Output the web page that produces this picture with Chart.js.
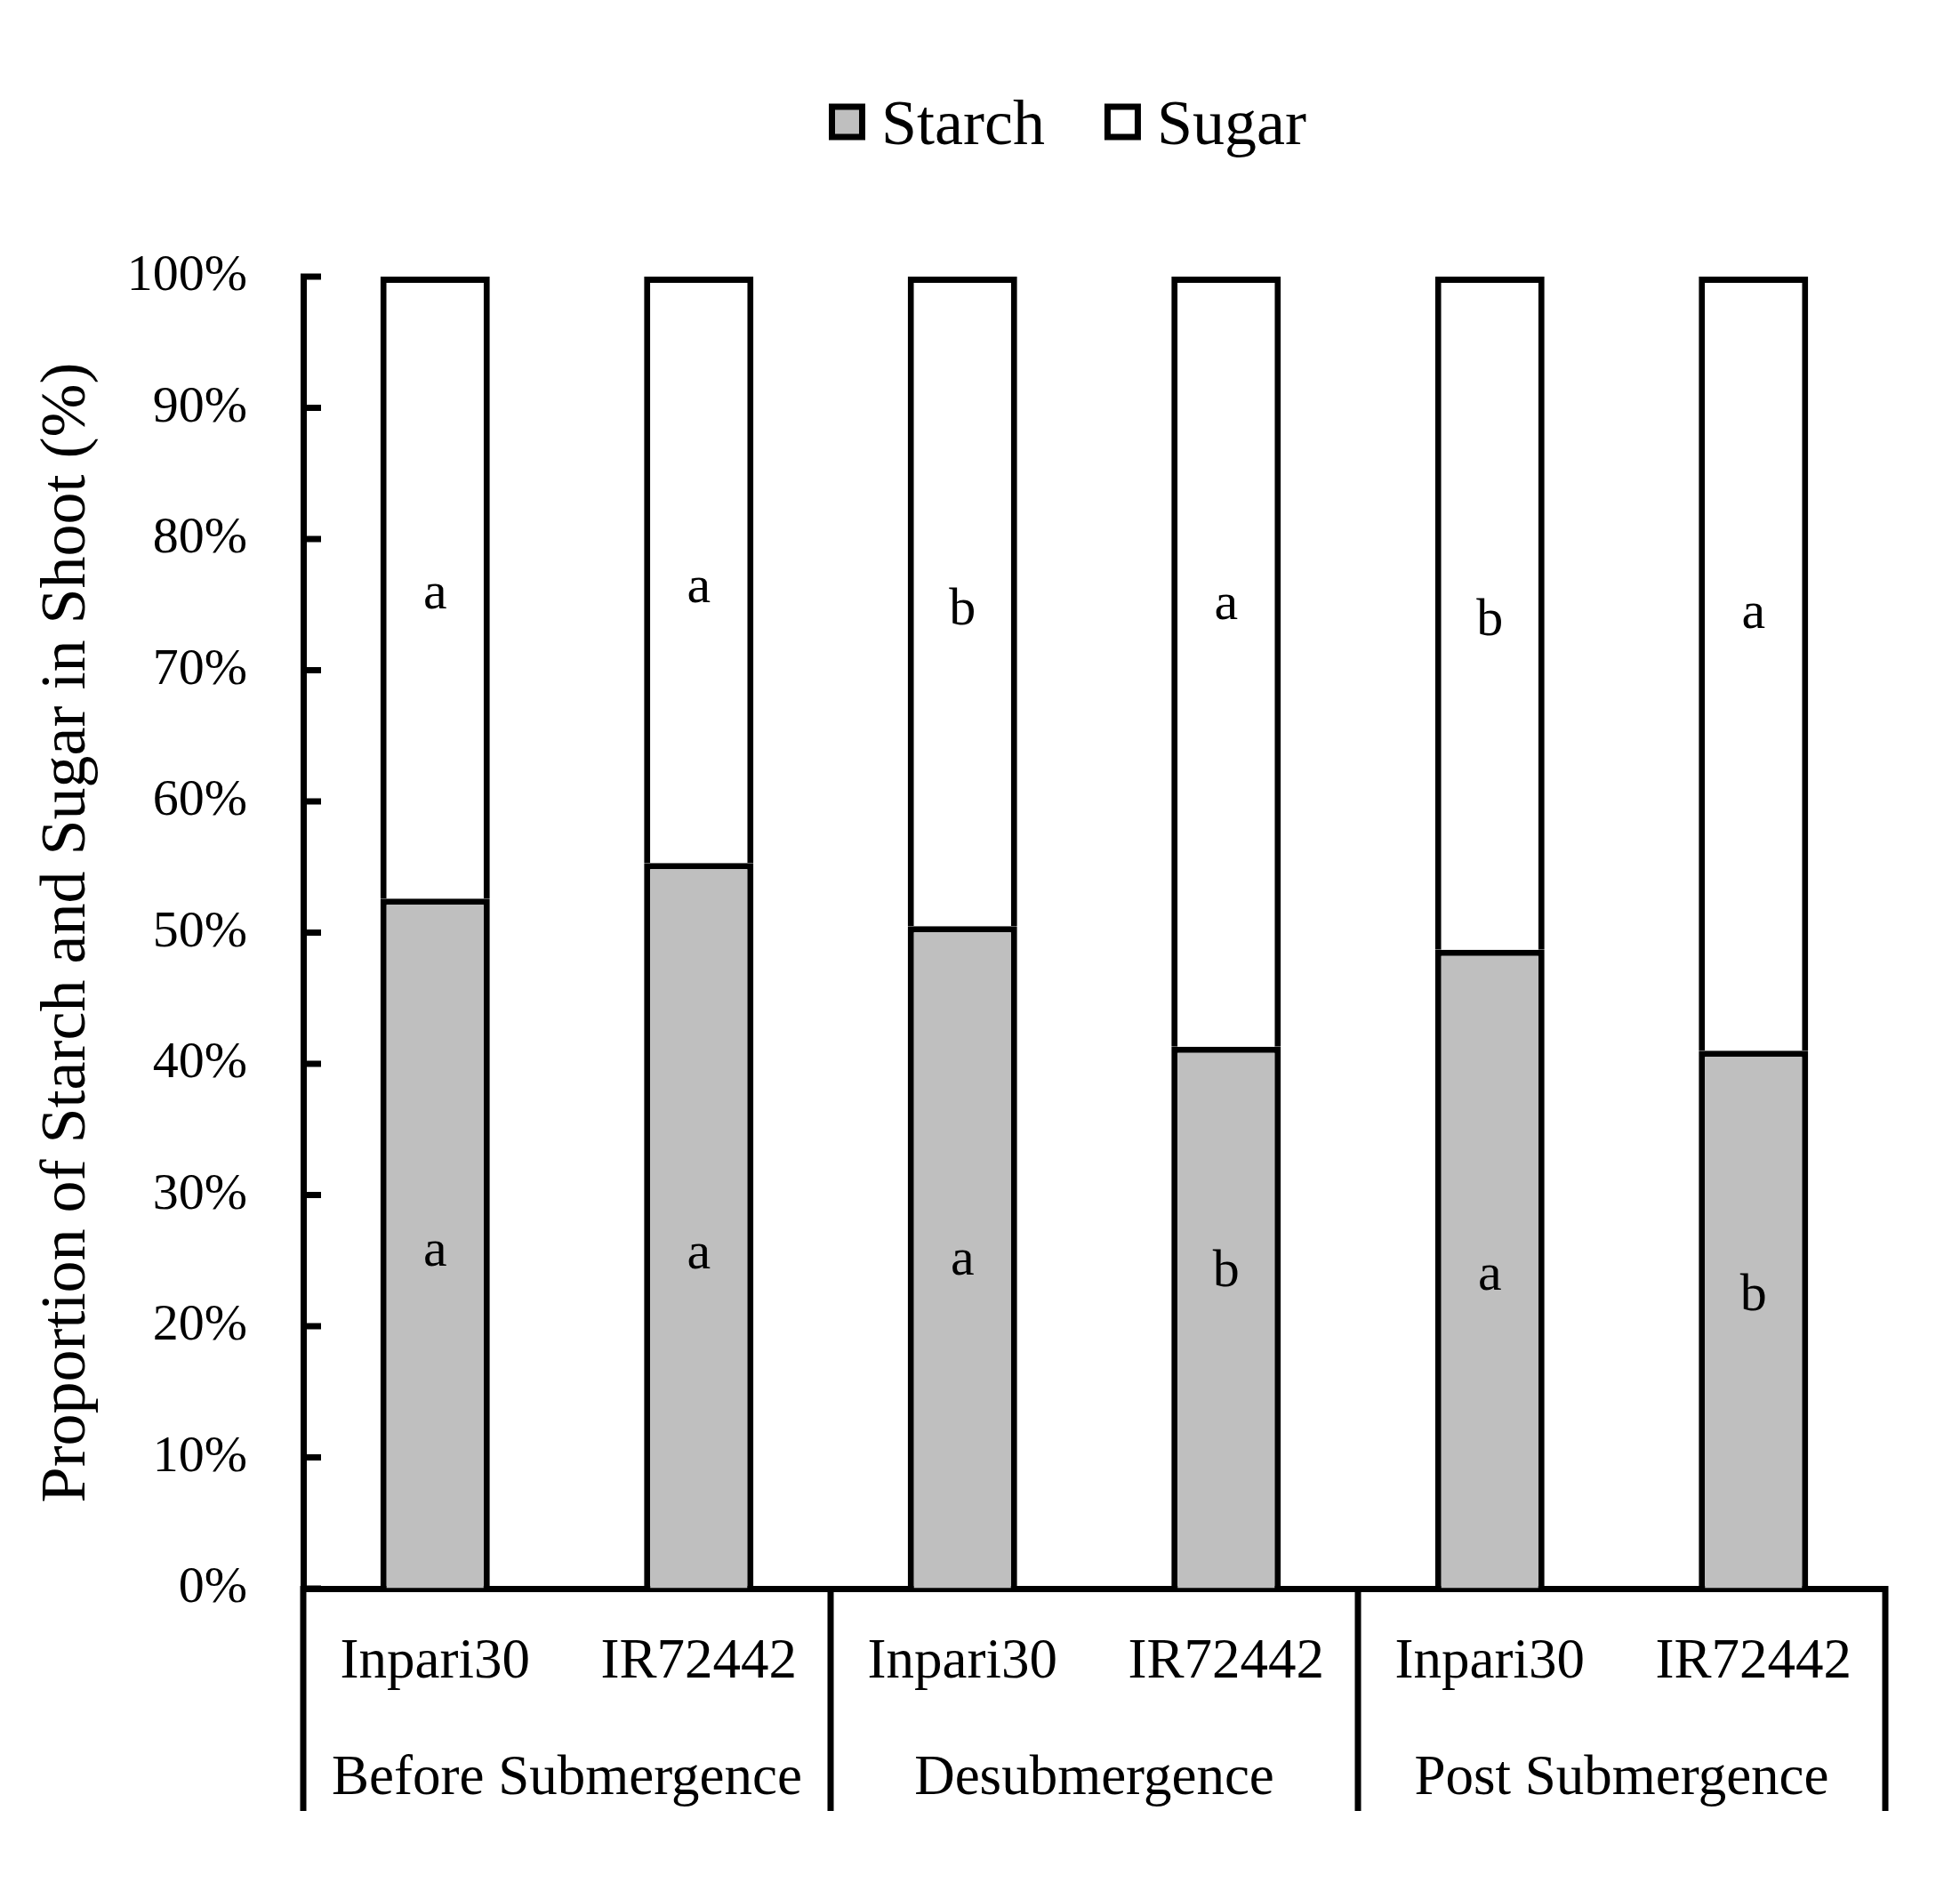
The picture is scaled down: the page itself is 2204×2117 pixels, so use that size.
<!DOCTYPE html>
<html>
<head>
<meta charset="utf-8">
<script src="https://cdn.jsdelivr.net/npm/chart.js@4.4.0/dist/chart.umd.min.js"></script>
<style>
  html, body { margin: 0; padding: 0; background: #fff; }
  canvas { display: block; }
</style>
</head>
<body>
<canvas id="chart" width="2204" height="2117"></canvas>
<script>
// data
const categories = ['Inpari30', 'IR72442', 'Inpari30', 'IR72442', 'Inpari30', 'IR72442'];
const groups = ['Before Submergence', 'Desubmergence', 'Post Submergence'];
const starch = [52.6, 55.3, 50.5, 41.3, 48.7, 41.0];
const sugar = [47.4, 44.7, 49.5, 58.7, 51.3, 59.0];

// significance letters and where they sit (in % units)
const starchLetters = ['a', 'a', 'a', 'b', 'a', 'b'];
const sugarLetters = ['a', 'a', 'b', 'a', 'b', 'a'];
const starchLetterAt = [24.6, 24.4, 23.9, 23.05, 22.8, 21.2];
const sugarLetterAt = [74.7, 75.2, 73.5, 73.9, 72.7, 73.2];

const FONT = "'Liberation Serif', 'Times New Roman', serif";
const LINE = 7;

const decorations = {
  id: 'decorations',
  afterDatasetsDraw(chart) {
    const { ctx } = chart;
    const x = chart.scales.x, y = chart.scales.y;
    ctx.save();
    ctx.fillStyle = '#000';
    ctx.font = '60px ' + FONT;
    ctx.textAlign = 'center';
    ctx.textBaseline = 'alphabetic';
    starchLetters.forEach((t, i) => ctx.fillText(t, x.getPixelForValue(i), y.getPixelForValue(starchLetterAt[i])));
    sugarLetters.forEach((t, i) => ctx.fillText(t, x.getPixelForValue(i), y.getPixelForValue(sugarLetterAt[i])));
    ctx.restore();
  },
  afterDraw(chart) {
    const { ctx, chartArea } = chart;
    const x = chart.scales.x, y = chart.scales.y;
    ctx.save();
    ctx.strokeStyle = '#000';
    ctx.lineWidth = LINE;

    // tick marks pointing into the plot
    y.ticks.forEach(t => {
      const py = y.getPixelForValue(t.value);
      ctx.beginPath();
      ctx.moveTo(chartArea.left - 3, py);
      ctx.lineTo(chartArea.left + 20, py);
      ctx.stroke();
    });

    // group separators under the axis
    const sepBottom = chartArea.bottom + 250;
    [-0.5, 1.5, 3.5, 5.5].forEach(v => {
      const px = x.getPixelForValue(v);
      ctx.beginPath();
      ctx.moveTo(px, chartArea.bottom - 3);
      ctx.lineTo(px, sepBottom);
      ctx.stroke();
    });

    // group labels
    ctx.fillStyle = '#000';
    ctx.font = '63px ' + FONT;
    ctx.textAlign = 'center';
    ctx.textBaseline = 'alphabetic';
    groups.forEach((g, i) => {
      ctx.fillText(g, x.getPixelForValue(i * 2 + 0.5), chartArea.bottom + 231);
    });

    // legend
    ctx.font = '72px ' + FONT;
    ctx.textAlign = 'left';
    let lx = 932;
    chart.data.datasets.forEach(ds => {
      ctx.fillStyle = ds.backgroundColor;
      ctx.fillRect(lx + 3.5, 120, 34, 34);
      ctx.strokeRect(lx + 3.5, 120, 34, 34);
      ctx.fillStyle = '#000';
      ctx.fillText(ds.label, lx + 59, 162);
      lx += 59 + ctx.measureText(ds.label).width + 67;
    });
    ctx.restore();
  }
};

new Chart(document.getElementById('chart'), {
  type: 'bar',
  data: {
    labels: categories,
    datasets: [
      {
        label: 'Starch',
        data: starch,
        backgroundColor: '#bfbfbf',
        borderColor: '#000',
        borderWidth: LINE,
        barPercentage: 0.415,
        categoryPercentage: 1
      },
      {
        label: 'Sugar',
        data: sugar,
        backgroundColor: '#ffffff',
        borderColor: '#000',
        borderWidth: LINE,
        barPercentage: 0.415,
        categoryPercentage: 1
      }
    ]
  },
  options: {
    responsive: false,
    devicePixelRatio: 1,
    animation: false,
    layout: { padding: { top: 311, left: 0, right: 84, bottom: 0 } },
    plugins: {
      legend: { display: false },
      tooltip: { enabled: false }
    },
    scales: {
      x: {
        stacked: true,
        afterFit(scale) { scale.height = 331; },
        grid: { display: true, drawOnChartArea: false, drawTicks: false },
        border: { display: true, color: '#000', width: LINE },
        ticks: { color: '#000', padding: 46, font: { family: FONT, size: 63 } }
      },
      y: {
        stacked: true,
        min: 0,
        max: 100,
        afterFit(scale) { scale.width = 341; },
        grid: { display: true, drawOnChartArea: false, drawTicks: false },
        border: { display: true, color: '#000', width: LINE },
        ticks: {
          stepSize: 10,
          color: '#000',
          padding: 63,
          font: { family: FONT, size: 58 },
          callback: v => v + '%'
        },
        title: {
          display: true,
          text: 'Proportion of Starch and Sugar in Shoot (%)',
          color: '#000',
          font: { family: FONT, size: 72 },
          padding: { top: 33, bottom: 0 }
        }
      }
    }
  },
  plugins: [decorations]
});
</script>
</body>
</html>
